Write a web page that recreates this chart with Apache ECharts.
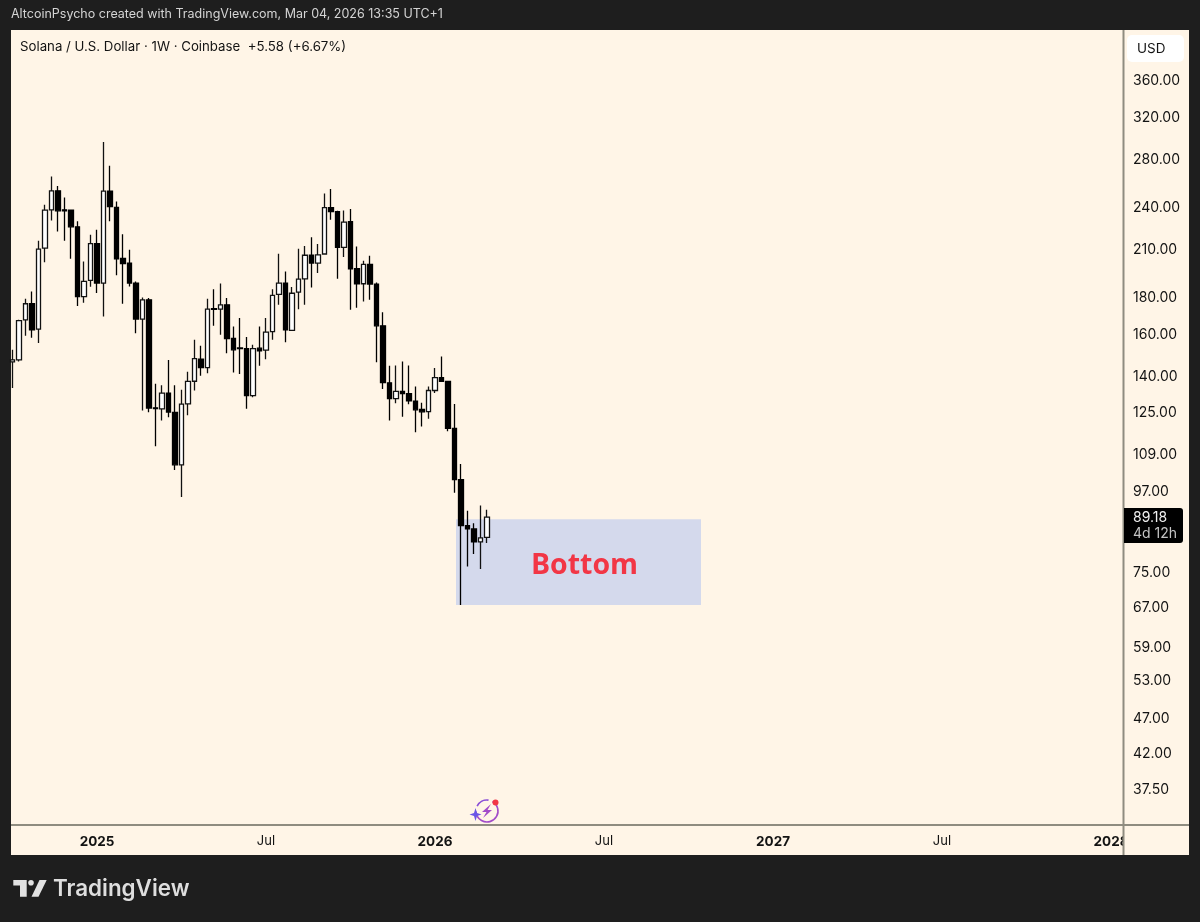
<!DOCTYPE html>
<html>
<head>
<meta charset="utf-8">
<style>html,body{margin:0;padding:0;background:#1e1e1e}#c{width:1200px;height:922px}</style>
<script src="https://cdn.jsdelivr.net/npm/echarts@6/dist/echarts.min.js"></script>
</head>
<body>
<div id="c"></div>
<script>
// Weekly bars. The x axis counts weeks from the bar of 2024-12-30 (week 0, labelled 2025).
const firstBarWeek = -13;
const opens = [146.4,147.3,167.4,176.2,162.5,210.4,237.8,252.6,237.8,237.6,225.2,180.3,189.8,213.4,188.2,252.4,239.7,203.6,200.6,188.2,167.8,178.4,126.4,126.0,132.5,124.6,105.4,128.0,137.6,147.6,143.7,173.5,173.2,175.6,157.7,153.0,152.7,131.4,152.9,152.0,161.2,181.6,188.2,161.8,182.8,190.8,205.7,200.6,206.5,239.4,236.3,210.9,228.9,197.0,187.8,199.8,187.6,164.2,136.9,130.2,133.2,132.3,129.1,125.8,124.9,133.6,139.2,137.5,118.4,100.5,86.8,85.9,82.4,83.6];
const closes = [147.3,167.0,176.2,162.1,209.8,237.6,252.6,237.0,237.0,225.2,180.3,189.2,213.4,188.2,252.4,240.3,203.4,200.3,188.2,167.8,178.4,126.3,126.1,132.5,124.7,105.4,127.9,137.5,147.9,143.7,173.2,173.1,175.6,157.6,152.1,152.7,131.4,152.7,151.6,160.9,181.0,188.2,162.1,182.2,190.6,205.7,200.6,205.9,239.4,236.5,210.9,228.6,197.0,187.8,199.8,187.6,164.2,137.0,130.2,133.2,132.3,129.3,125.6,124.8,133.6,139.2,137.6,118.4,100.5,86.8,85.9,82.4,83.5,89.18];
const lows = [134.7,146.5,159.1,158.1,155.4,201.2,229.8,221.9,215.4,203.4,174.9,176.7,186.0,182.3,169.2,229.2,193.0,176.2,186.2,160.4,125.3,124.6,111.8,121.4,122.7,103.7,95.1,123.5,133.6,140.0,141.2,164.2,159.6,150.5,141.5,140.8,126.0,130.7,144.6,147.6,157.1,175.6,155.8,161.6,173.2,175.6,185.6,194.4,206.3,230.3,190.8,204.5,172.8,173.9,177.4,178.4,146.2,134.2,121.4,128.3,122.9,127.9,116.9,119.1,122.1,132.5,137.5,117.3,96.4,67.4,76.2,79.3,75.6,82.1];
const highs = [152.1,167.4,179.0,183.2,215.4,241.7,264.4,256.5,247.3,237.6,229.2,201.6,219.5,223.1,295.2,273.6,244.2,220.0,209.3,189.2,179.7,179.4,136.5,135.8,147.3,135.8,133.9,141.8,157.1,154.1,179.1,184.6,187.9,179.4,163.8,168.3,158.4,154.6,163.8,168.3,184.6,206.6,195.3,185.8,210.0,211.9,217.9,213.2,250.5,254.0,237.0,237.3,238.3,211.5,202.1,205.3,188.6,171.5,144.6,144.7,146.5,144.7,135.3,128.5,135.3,143.5,148.9,137.6,128.0,105.7,91.0,87.5,92.6,91.3];

const priceTicks = [37.5,42,47,53,59,67,75,97,109,125,140,160,180,210,240,280,320,360];
const yearTicks = [[0,'2025'],[52,'2026'],[104,'2027'],[156,'2028']];
const monthTicks = [[26,'Jul'],[78,'Jul'],[130,'Jul']];

const priceMin = 33.4, priceMax = 422;
const weekMin = -13.231, weekMax = 157.846;

// The "Bottom" zone
const zoneFrom = 55.23, zoneTo = 92.92;
const zoneTop = 88.6, zoneBottom = 67.4;
const zoneText = 'Bottom';

const headerText = 'AltcoinPsycho created with TradingView.com, Mar 04, 2026 13:35 UTC+1';
const legendText = 'Solana / U.S. Dollar · 1W · Coinbase  +5.58 (+6.67%)';

const candles = opens.map((o, i) => [firstBarWeek + i, o, closes[i], lows[i], highs[i]]);
const tickLabel = {};
yearTicks.forEach(t => { tickLabel[t[0]] = '{b|' + t[1] + '}'; });
monthTicks.forEach(t => { tickLabel[t[0]] = '{n|' + t[1] + '}'; });

const FONT = 'Inter, "Noto Sans", sans-serif';
const PANEL = '#fff5e7', LINE = '#8f8c80', DARK = '#1e1e1e';

const chart = echarts.init(document.getElementById('c'), null, {renderer: 'canvas'});
chart.setOption({
  animation: false,
  backgroundColor: DARK,
  grid: {left: 11, right: 77, top: 30, bottom: 97, containLabel: false},
  xAxis: {
    type: 'value',
    min: weekMin, max: weekMax,
    scale: true,
    splitLine: {show: false},
    axisLine: {show: false},
    axisTick: {show: false},
    axisLabel: {
      customValues: yearTicks.concat(monthTicks).map(t => t[0]),
      hideOverlap: false, margin: 10,
      formatter: v => tickLabel[v] || '',
      rich: {
        b: {fontFamily: FONT, fontSize: 13.5, fontWeight: 700, color: '#131313'},
        n: {fontFamily: FONT, fontSize: 13, fontWeight: 400, color: '#131313'}
      }
    }
  },
  yAxis: {
    type: 'log', logBase: 10, position: 'right',
    min: priceMin, max: priceMax,
    splitLine: {show: false},
    axisLine: {show: false},
    axisTick: {show: false},
    axisLabel: {
      customValues: priceTicks,
      hideOverlap: false, margin: 10,
      formatter: v => '{p|' + Number(v).toFixed(2) + '}',
      rich: {p: {fontFamily: FONT, fontSize: 14, color: '#131313', padding: [2, 0, 0, 0]}}
    }
  },
  series: [{
    type: 'candlestick',
    data: candles,
    barWidth: 5,
    clip: true,
    itemStyle: {color: '#ffffff', color0: '#000000', borderColor: '#111111', borderColor0: '#000000', borderColorDoji: '#000000', borderWidth: 1.3},
    markArea: {
      silent: true,
      itemStyle: {color: '#d4d9ec', opacity: 1},
      label: {show: true, position: 'inside', offset: [6, 3.5], color: '#f23645', fontFamily: '"Open Sans", sans-serif', fontSize: 28.5, fontWeight: 700},
      data: [[
        {name: zoneText, xAxis: zoneFrom, yAxis: zoneTop},
        {xAxis: zoneTo, yAxis: zoneBottom}
      ]]
    }
  }],
  graphic: [
    {type: 'rect', z: -10, silent: true, shape: {x: 11, y: 30, width: 1178, height: 825}, style: {fill: PANEL}},
    {type: 'rect', z: 50, silent: true, shape: {x: 1123, y: 826, width: 66, height: 29}, style: {fill: PANEL}},
    {type: 'line', z: 51, silent: true, shape: {x1: 11, y1: 825, x2: 1189, y2: 825}, style: {stroke: LINE, lineWidth: 2}},
    {type: 'line', z: 51, silent: true, shape: {x1: 1123.5, y1: 30, x2: 1123.5, y2: 855}, style: {stroke: LINE, lineWidth: 2}},
    {type: 'text', z: 60, silent: true, x: 11, y: 14, style: {text: headerText, fill: '#d4d4d4', font: '12.5px ' + FONT, textVerticalAlign: 'middle'}},
    {type: 'text', z: 60, silent: true, x: 20, y: 47, style: {text: legendText, fill: '#131313', font: '13.25px ' + FONT, textVerticalAlign: 'middle'}},
    {type: 'rect', z: 60, silent: true, shape: {x: 1127, y: 35, width: 57, height: 27, r: 5}, style: {fill: '#ffffff'}},
    {type: 'text', z: 61, silent: true, x: 1137, y: 49, style: {text: 'USD', fill: '#131313', font: '13.5px ' + FONT, textVerticalAlign: 'middle'}},
    {type: 'rect', z: 60, silent: true, shape: {x: 1124, y: 508, width: 59, height: 35, r: [0, 3, 3, 0]}, style: {fill: '#000000'}},
    {type: 'text', z: 61, silent: true, x: 1133, y: 518, style: {text: '89.18', fill: '#f0f0f0', font: '14px ' + FONT, textVerticalAlign: 'middle'}},
    {type: 'text', z: 61, silent: true, x: 1133, y: 534, style: {text: '4d 12h', fill: '#c4c4c4', font: '14px ' + FONT, textVerticalAlign: 'middle'}},
    // lightning icon
    {type: 'arc', z: 60, silent: true, shape: {cx: 487, cy: 811, r: 11, startAngle: -1.05, endAngle: 3.1}, style: {fill: 'none', stroke: '#a24bc9', lineWidth: 1.6}},
    {type: 'arc', z: 60, silent: true, shape: {cx: 487, cy: 811, r: 11, startAngle: 3.6, endAngle: 4.85}, style: {fill: 'none', stroke: '#8a4fd6', lineWidth: 1.6}},
    {type: 'polygon', z: 60, silent: true, shape: {points: [[491,804],[482,812],[486.5,812],[483,818],[492,810],[487.5,810]]}, style: {fill: '#a24bc9'}},
    {type: 'polygon', z: 60, silent: true, shape: {points: [[475.5,808],[477,813],[481.5,814.5],[477,816],[475.5,821],[474,816],[469.5,814.5],[474,813]]}, style: {fill: '#6a55e6'}},
    {type: 'circle', z: 60, silent: true, shape: {cx: 495.5, cy: 802.5, r: 3}, style: {fill: '#f23645'}},
    // logo
    {type: 'polygon', z: 60, silent: true, shape: {points: [[13.3,880],[26.7,880],[26.7,896.7],[20,896.7],[20,885.5],[13.3,885.5]]}, style: {fill: '#e2e2e2'}},
    {type: 'circle', z: 60, silent: true, shape: {cx: 31, cy: 882.8, r: 2.8}, style: {fill: '#e2e2e2'}},
    {type: 'polygon', z: 60, silent: true, shape: {points: [[39.5,880],[46.7,880],[38.5,896.7],[31.5,896.7]]}, style: {fill: '#e2e2e2'}},
    {type: 'text', z: 60, silent: true, x: 53, y: 889, style: {text: 'TradingView', fill: '#dedede', font: '600 22.4px ' + FONT, textVerticalAlign: 'middle'}}
  ]
});
</script>
</body>
</html>
